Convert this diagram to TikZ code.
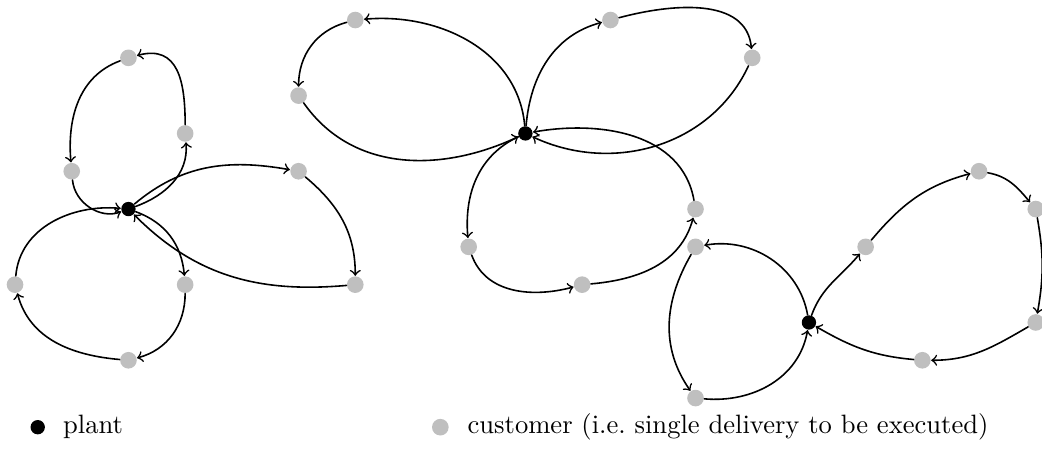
\documentclass[tikz,border=0pt]{standalone}
\usepackage{amsmath}
\usepackage{tikz}
\usetikzlibrary{arrows,positioning}
\tikzset{plant/.style={circle,fill=black,inner sep=0pt,minimum size=1.9mm},
	cust/.style={circle,fill=gray!50,inner sep=0pt,minimum size=2.2mm},
	tour/.style={->,black,semithick}}

\begin{document}
\begin{tikzpicture}[line cap=round,line join=round,>=to,x=0.75cm,y=0.5cm]
	\useasboundingbox (-0.265,-1.43) rectangle (18.11,10.53);
	% plants
	\node[plant] (p1) at (2.,5.) {};
	\node[plant] (p2) at (9.,7.) {};
	\node[plant] (p3) at (14.,2.) {};
	% customers, left plant
	\node[cust] (a1) at (3.,7.) {};
	\node[cust] (a2) at (2.,9.) {};
	\node[cust] (a3) at (1.,6.) {};
	\node[cust] (b1) at (5.,6.) {};
	\node[cust] (b2) at (6.,3.) {};
	\node[cust] (c1) at (3.,3.) {};
	\node[cust] (c2) at (2.,1.) {};
	\node[cust] (c3) at (0.,3.) {};
	% customers, middle plant
	\node[cust] (d1) at (6.,10.) {};
	\node[cust] (d2) at (5.,8.) {};
	\node[cust] (e1) at (10.5,10.) {};
	\node[cust] (e2) at (13.,9.) {};
	\node[cust] (f1) at (8.,4.) {};
	\node[cust] (f2) at (10.,3.) {};
	\node[cust] (f3) at (12.,5.) {};
	% customers, right plant
	\node[cust] (g1) at (12.,4.) {};
	\node[cust] (g2) at (12.,0.) {};
	\node[cust] (h1) at (15.,4.) {};
	\node[cust] (h2) at (17.,6.) {};
	\node[cust] (h3) at (18.,5.) {};
	\node[cust] (h4) at (18.,2.) {};
	\node[cust] (h5) at (16.,1.) {};
	% tours of the left plant
	\draw[tour] (p1) to[out=20,in=-85] (a1);
	\draw[tour] (a1) to[out=90,in=15,looseness=1.3] (a2);
	\draw[tour] (a2) to[out=200,in=95] (a3);
	\draw[tour] (a3) to[out=-85,in=200] (p1);
	\draw[tour] (p1) to[out=40,in=170] (b1);
	\draw[tour] (b1) to[out=-40,in=90] (b2);
	\draw[tour] (b2) to[out=185,in=-45] (p1);
	\draw[tour] (p1) to[out=-20,in=95] (c1);
	\draw[tour] (c1) to[out=-90,in=15] (c2);
	\draw[tour] (c2) to[out=175,in=-75] (c3);
	\draw[tour] (c3) to[out=85,in=175] (p1);
	% tours of the middle plant
	\draw[tour] (p2) to[out=95,in=5] (d1);
	\draw[tour] (d1) to[out=195,in=90] (d2);
	\draw[tour] (d2) to[out=-55,in=205] (p2);
	\draw[tour] (p2) to[out=85,in=195] (e1);
	\draw[tour] (e1) to[out=15,in=95] (e2);
	\draw[tour] (e2) to[out=-115,in=-25] (p2);
	\draw[tour] (p2) to[out=205,in=95] (f1);
	\draw[tour] (f1) to[out=-70,in=195] (f2);
	\draw[tour] (f2) to[out=5,in=-105] (f3);
	\draw[tour] (f3) to[out=100,in=10] (p2);
	% tours of the right plant
	\draw[tour] (p3) to[out=100,in=10] (g1);
	\draw[tour] (g1) to[out=240,in=125] (g2);
	\draw[tour] (g2) to[out=-5,in=-100] (p3);
	\draw[tour] (p3) to[out=70,in=230] (h1);
	\draw[tour] (h1) to[out=50,in=195] (h2);
	\draw[tour] (h2) to[out=-10,in=130] (h3);
	\draw[tour] (h3) to[out=-80,in=80] (h4);
	\draw[tour] (h4) to[out=210,in=0] (h5);
	\draw[tour] (h5) to[out=175,in=-30] (p3);
	% legend
	\node[plant] (legplant) at (0.4,-0.77) {};
	\node[right=1.1mm of legplant] (legplanttxt) {plant};
	\node[cust] (legcust) at (7.5,-0.77) {};
	\node[right=1.2mm of legcust] (legcusttxt) {customer (i.e.\ single delivery to be executed)};
\end{tikzpicture}
\end{document}
